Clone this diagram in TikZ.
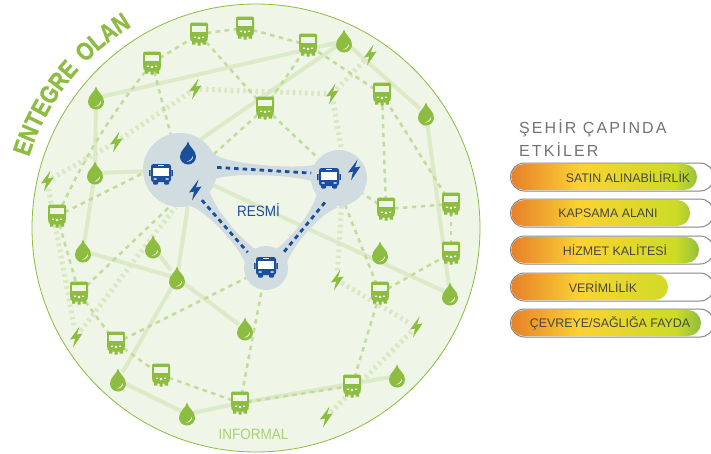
\documentclass[tikz,border=0pt]{standalone}
\usepackage{fontspec}
\setmainfont{Liberation Sans}
\newfontfamily\titlefont[LetterSpace=13]{Liberation Sans}
\newfontfamily\narrowfont[FakeStretch=0.9]{Liberation Sans}
\newfontfamily\entfont[FakeStretch=0.84,FakeBold=1.2]{Liberation Sans Bold}
\usetikzlibrary{calc,decorations.text}
\definecolor{bgcirc}{HTML}{EFF5E7}
\definecolor{gmain}{HTML}{8CBC40}
\definecolor{gdash}{HTML}{C1DC9B}
\definecolor{gsolid}{HTML}{DDEAC8}
\definecolor{gdot}{HTML}{D9E8C3}
\definecolor{bmain}{HTML}{1B4E9B}
\definecolor{hubc}{HTML}{D0DCDF}
\definecolor{barO}{HTML}{E8832A}
\definecolor{barY}{HTML}{FBD233}
\definecolor{barL}{HTML}{CDDC26}
\definecolor{barG}{HTML}{8CBC40}
\pgfdeclarelayer{front}
\pgfsetlayers{main,front}
\pgfdeclarehorizontalshading{barshade}{100bp}{color(0bp)=(barO);color(26bp)=(barO);color(43bp)=(barY);color(68bp)=(barL);color(75bp)=(barG);color(100bp)=(barG)}
\tikzset{
  busnode/.style={inner sep=0pt,minimum width=15pt,minimum height=17pt},
  dropnode/.style={inner sep=0pt,minimum width=12pt,minimum height=16pt},
  boltnode/.style={inner sep=0pt,minimum width=9pt,minimum height=15pt},
  hubnode/.style={circle,inner sep=0pt,fill=hubc,minimum size=#1},
  solidline/.style={draw=gsolid,line width=4pt},
  dashline/.style={draw=gdash,line width=2.5pt,dash pattern=on 4.5pt off 4.5pt},
  dotline/.style={draw=gdot,line width=5pt,dash pattern=on 2.6pt off 3.6pt},
  blueline/.style={draw=bmain,line width=2.8pt,dash pattern=on 4.5pt off 4pt},
  gdrop/.pic={
    \fill[#1] (0,-11.5) .. controls (1,-6) and (8,-3) .. (8,3.5) .. controls (8,8) and (4.5,11.5) .. (0,11.5) .. controls (-4.5,11.5) and (-8,8) .. (-8,3.5) .. controls (-8,-3) and (-1,-6) .. cycle;
    \fill[white,opacity=.85] (5,2.5) .. controls (5.5,6) and (3,8.8) .. (-1.5,8.6) .. controls (2,7.6) and (4,6) .. cycle;
  },
  gbolt/.pic={
    \fill[#1] (3.5,-10.5) -- (-6,2.5) -- (-1,1.5) -- (-3,10.5) -- (6.5,-3.5) -- (1,-2.5) -- cycle;
  },
  gbus/.pic={
    \fill[gmain,rounded corners=2pt] (-9,-11.5) -- (9,-11.5) -- (9,3) -- (8,8.5) -- (-8,8.5) -- (-9,3) -- cycle;
    \fill[gmain] (-7,8) rectangle (-3.6,10.6) (-1.5,8) rectangle (1.5,11.5) (3.6,8) rectangle (7,10.6);
    \fill[bgcirc] (-6.6,-8) rectangle (6.6,-1.8);
    \fill[white] (0,4) circle[radius=1.3pt] (-5.2,2.6) rectangle (-3,3.8) (3,2.6) rectangle (5.2,3.8);
  },
  bbus/.pic={
    \fill[bmain,rounded corners=2.5pt] (-10,-10) rectangle (10,8);
    \fill[bmain] (-11.8,-4) rectangle (-10.4,2) (10.4,-4) rectangle (11.8,2);
    \fill[bmain,rounded corners=1pt] (-8,7) rectangle (-3,10.5) (3,7) rectangle (8,10.5);
    \fill[white] (-8,-6.5) rectangle (8,2);
    \fill[white] (-3,-9) rectangle (3,-8);
    \fill[white] (-7.5,4.4) rectangle (-4.5,5.6) (4.5,4.4) rectangle (7.5,5.6);
  }
}
% band between two rim points #1 and #2 of hubs
\newcommand{\hubband}[2]{%
  \fill[hubc] ($($(#1)!-4pt!(#2)$)!13pt!90:(#2)$)
    .. controls ($($(#1)!12pt!(#2)$)!3pt!90:(#2)$)
    and ($($(#2)!10pt!(#1)$)!3pt!-90:(#1)$)
    .. ($($(#2)!-4pt!(#1)$)!9pt!-90:(#1)$)
    -- ($($(#2)!-4pt!(#1)$)!9pt!90:(#1)$)
    .. controls ($($(#2)!10pt!(#1)$)!3pt!90:(#1)$)
    and ($($(#1)!12pt!(#2)$)!3pt!-90:(#2)$)
    .. ($($(#1)!-4pt!(#2)$)!13pt!-90:(#2)$)
    -- cycle;}
\newcommand{\impactbar}[5]{% name, top y, fill end, text x, text
  \draw[draw=black!48,line width=1pt,fill=white,rounded corners=14pt] (510.5,#2) rectangle (714,#2+28);
  \begin{scope}
    \clip[rounded corners=13pt] (511.2,#2+1) rectangle (#3,#2+27);
    \shade[shading=barshade] (510,#2) rectangle (702,#2+28);
  \end{scope}
  \node[inner sep=0pt,text=black!72,font=\fontsize{12.4}{13}\selectfont] (#1) at (#4,#2+14) {#5};}
\begin{document}
\begin{tikzpicture}[x=1pt,y=-1pt]
\useasboundingbox (0,0) rectangle (711,453);
\begin{scope}
\clip (0,0) rectangle (711,453);
\fill[bgcirc] (256,228) circle[radius=224pt];
\draw[gmain,line width=.8pt] (256,228) circle[radius=224pt];

\begin{pgfonlayer}{front}
  \node[hubnode=74pt] (H1) at (180,170) {};
  \node[hubnode=56pt] (H2) at (339,178) {};
  \node[hubnode=44pt] (H3) at (266,268) {};
  \hubband{H1.4}{H2.170}
  \hubband{H1.-54}{H3.140}
  \hubband{H2.-120}{H3.41}
  \draw[blueline] (H1.4) -- (H2.170);
  \draw[blueline,shorten >=2pt] (H1.-54) -- (H3.140);
  \draw[blueline,shorten >=2pt] (H2.-120) -- (H3.41);
  \foreach \n/\x/\y in {b1/152/63,b2/199/34,b3/245/28,b4/308/45,b5/265/108,b6/382/94,b7/386/209,b8/451/204,b9/451/253,b10/380/293,b11/352/386,b12/240/403,b13/161/375,b14/116/343,b15/79/293,b16/57/216}{
    \node[busnode] (\n) at (\x,\y) {};
    \pic at (\x,\y) {gbus};
  }
  \foreach \n/\x/\y in {d1/96/98,d2/95/173,d3/83/251,d4/153/247,d5/177/278,d6/245/329,d7/118/380,d8/187/414,d9/344/41,d10/426/114,d11/380/253,d12/450/294,d13/397/376}{
    \node[dropnode] (\n) at (\x,\y) {};
    \pic at (\x,\y) {gdrop=gmain};
  }
  \foreach \n/\x/\y in {l1/47/181,l2/116/142,l3/195/89,l4/332/94,l5/370/55,l6/337/280,l7/416/327,l8/326/417,l9/76/337}{
    \node[boltnode] (\n) at (\x,\y) {};
    \pic at (\x,\y) {gbolt=gmain};
  }
  \pic at (161,174) {bbus};
  \pic at (188,153) {gdrop=bmain};
  \pic at (195,190) {gbolt=bmain};
  \pic at (329,178) {bbus};
  \pic at (354,170) {gbolt=bmain};
  \pic at (266,267) {bbus};
\end{pgfonlayer}

\foreach \a/\b in {d1/d9,d1/d2,d2/H1,d2/d3,d3/d5,d4/d5,d5/H1.-78,d5/d6,d5/d7,d7/d8,d8/b12,b12/d13,d9/d10,d10/d12,H1.56/d9,H1/d12}
  \draw[solidline] (\a) -- (\b);
\foreach \a/\b in {l1/l2,l2/l3,l3/l4,l4/l5,l1/l9,l9/H1.-97,l4/H2.85,H2.-85/l6,l6/l7,l7/l8}
  \draw[dotline] (\a) -- (\b);
\foreach \a/\b in {b1/b2,b2/b3,b3/b4,b1/H1,b16/H1.185,b16/b15,b15/b14,b14/b13,b13/b12,b15/H1.-105,b14/H3,b12/H3,b12/b11,b11/b10,b10/H2.-77,b10/b9,b9/b8,b8/b7,b7/H2,b8/b6,b7/b6,b6/b4,b5/H2,b5/b2,b5/b4,b5/H1.25}
  \draw[dashline] (\a) -- (\b);
\draw[dashline] (b1) to[bend right=6] (b16);

\path[decorate,decoration={text along path,text align={fit to path stretching spaces},
   text={|\fontsize{25}{25}\selectfont\entfont\color{gmain}|ENTEGRE OLAN}}]
  (29,157) arc[start angle=162.6,end angle=121,radius=234pt];

\node[text=bmain,font=\fontsize{15}{15}\selectfont\narrowfont,inner sep=0pt] (resmi) at (258.5,210) {RESMİ};
\node[text=gdash!60!gmain,font=\fontsize{15}{15}\selectfont\narrowfont,inner sep=0pt] (informal) at (253.5,434) {INFORMAL};

\node[anchor=west,text=black!55,font=\fontsize{16}{16}\selectfont\titlefont,inner sep=0pt] (tit1) at (519,128) {ŞEHİR ÇAPINDA};
\node[anchor=west,text=black!55,font=\fontsize{16}{16}\selectfont\titlefont,inner sep=0pt] (tit2) at (519,150) {ETKİLER};

\impactbar{r1}{163}{697}{628}{SATIN ALINABİLİRLİK}
\impactbar{r2}{199}{690}{608}{KAPSAMA ALANI}
\impactbar{r3}{236}{699}{615}{HİZMET KALİTESİ}
\impactbar{r4}{273}{668}{603}{VERİMLİLİK}
\impactbar{r5}{309}{701}{610}{ÇEVREYE/SAĞLIĞA FAYDA}
\end{scope}
\end{tikzpicture}
\end{document}
